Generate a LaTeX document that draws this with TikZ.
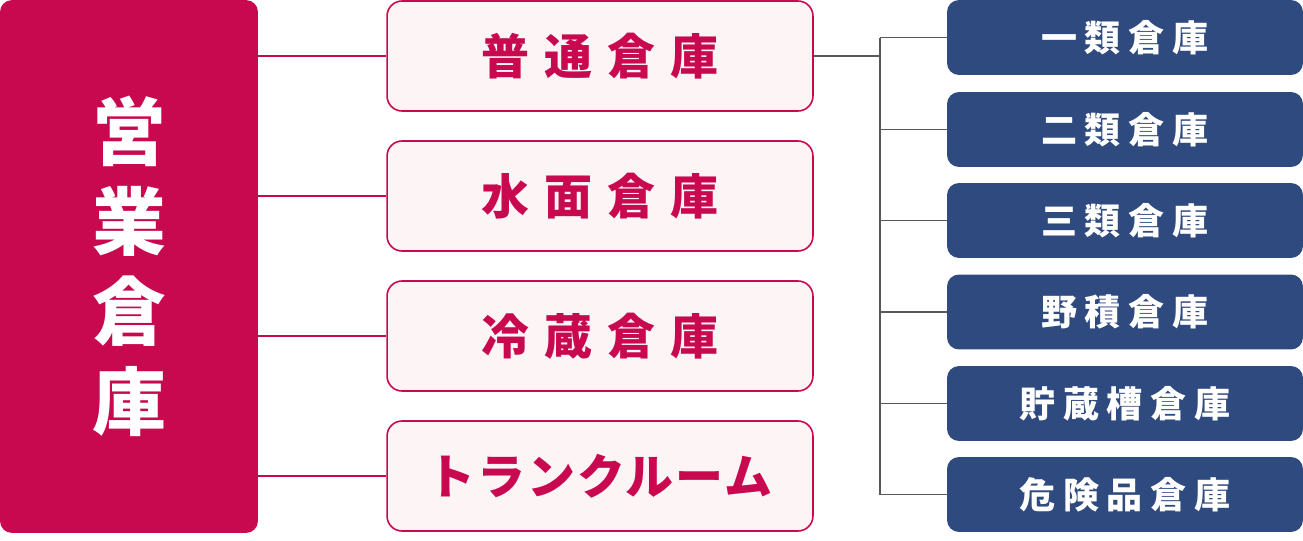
\documentclass[tikz,border=0pt]{standalone}
\usepackage{fontspec}
\newfontfamily\jpfont{Noto Sans CJK JP}
\definecolor{rose}{HTML}{C8094F}
\definecolor{rosebg}{HTML}{FDF4F6}
\definecolor{navy}{HTML}{2F4A7F}
\definecolor{wire}{HTML}{5B5656}
\begin{document}
\begin{tikzpicture}[x=0.02cm, y=-0.02cm,
    mainbox/.style={fill=rose, rounded corners=0.24cm, minimum width=5.16cm,
        minimum height=10.66cm, inner sep=0pt, text=white, align=center,
        font={\jpfont\bfseries\fontsize{42}{51.2}\selectfont}},
    kindbox/.style={draw=rose, line width=0.9pt, fill=rosebg, rounded corners=0.3cm,
        minimum width=8.52cm, minimum height=2.2cm, inner sep=0pt, text=rose,
        font={\jpfont\bfseries\fontsize{27.3}{30}\selectfont}},
    classbox/.style={fill=navy, rounded corners=0.24cm, minimum width=7.12cm,
        minimum height=1.5cm, inner sep=0pt, text=white,
        font={\jpfont\bfseries\fontsize{20.5}{24}\selectfont\addfontfeature{LetterSpace=22}}},
    link/.style={draw=rose, line width=1.1pt},
    branch/.style={draw=wire, line width=1.1pt}]

    \useasboundingbox (0,0) rectangle (1303,541);

    % Main block
    \node[mainbox] (main) at (129,266.5) {営\\業\\倉\\庫};

    % Kinds of warehouse
    \foreach \y/\txt/\sp [count=\i] in {56/普通倉庫/31, 196/水面倉庫/31, 336/冷蔵倉庫/31, 476/トランクルーム/04} {
        \node[kindbox] (m\i) at (600,\y) {\addfontfeature{LetterSpace=\sp}\txt\hspace{0.\sp em}};
        \draw[link] (main.east |- m\i.west) -- (m\i.west);
    }

    % Classes of ordinary warehouse
    \foreach \y/\txt [count=\i] in {37.5/一類倉庫, 129.5/二類倉庫, 220.5/三類倉庫, 312/野積倉庫, 403.5/貯蔵槽倉庫, 494.5/危険品倉庫} {
        \node[classbox] (r\i) at (1125,\y) {\txt\hspace{0.22em}};
    }
    \coordinate (jn) at (880,56);
    \draw[branch] (m1.east) -- (jn);
    \draw[branch] (jn |- r1.west) -- (jn |- r6.west);
    \foreach \i in {1,...,6} {
        \draw[branch] (jn |- r\i.west) -- (r\i.west);
    }
\end{tikzpicture}
\end{document}
